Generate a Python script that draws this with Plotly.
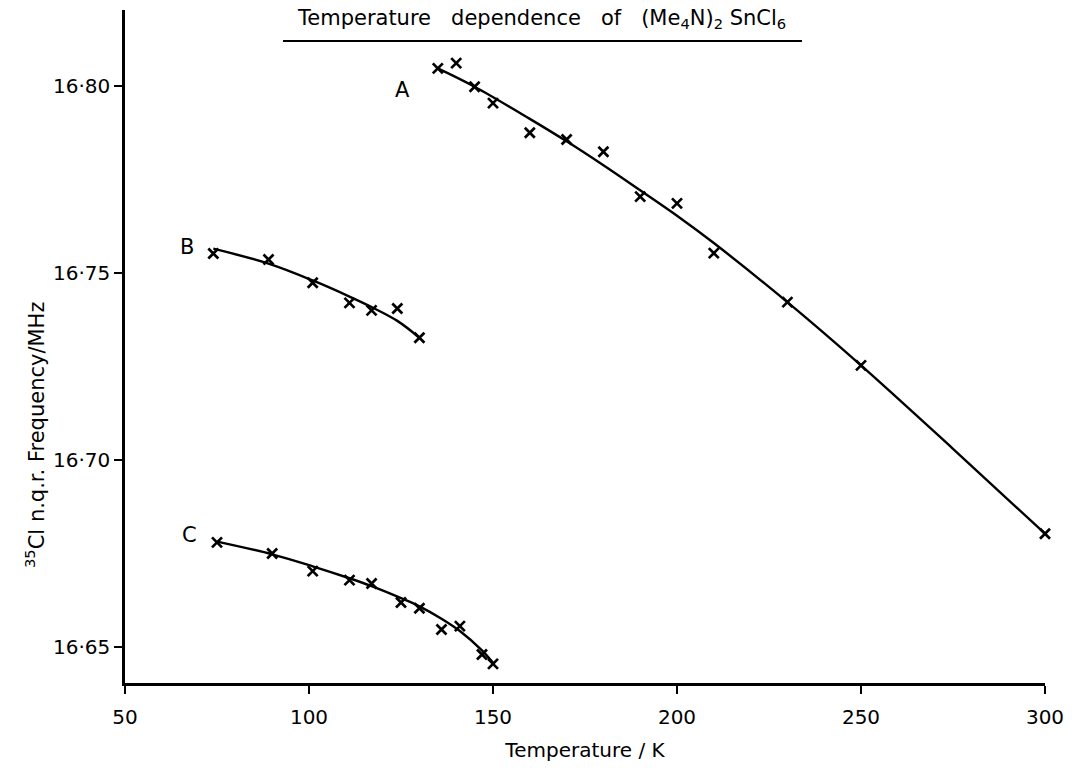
import plotly.graph_objects as go

# ---- data ----
temp_A = [135, 140, 145, 150, 160, 170, 180, 190, 200, 210, 230, 250, 300]
freq_A = [16.8047, 16.8061, 16.7998, 16.7954, 16.7875, 16.7857, 16.7824,
          16.7704, 16.7686, 16.7553, 16.7422, 16.7253, 16.6803]
curve_temp_A = [135, 145, 160, 170, 180, 190, 200, 210, 230, 250, 275, 300]
curve_freq_A = [16.8047, 16.7998, 16.7912, 16.7852, 16.7788, 16.7721, 16.7653,
                16.7580, 16.7422, 16.7253, 16.7030, 16.6803]

temp_B = [74, 89, 101, 111, 117, 124, 130]
freq_B = [16.7552, 16.7536, 16.7474, 16.7420, 16.7400, 16.7405, 16.7327]
curve_temp_B = [74, 89, 101, 111, 117, 124, 130]
curve_freq_B = [16.7565, 16.7525, 16.7480, 16.7437, 16.7409, 16.7372, 16.7327]

temp_C = [75, 90, 101, 111, 117, 125, 130, 136, 141, 147, 150]
freq_C = [16.6780, 16.6750, 16.6703, 16.6679, 16.6670, 16.6619, 16.6604,
          16.6547, 16.6556, 16.6480, 16.6455]
curve_temp_C = [75, 90, 101, 111, 117, 125, 130, 136, 141, 147, 150]
curve_freq_C = [16.6782, 16.6748, 16.6716, 16.6684, 16.6663, 16.6631, 16.6609,
                16.6576, 16.6543, 16.6491, 16.6458]

series_labels = ["A", "B", "C"]
label_temp = [125.5, 66.8, 67.5]
label_freq = [16.799, 16.757, 16.680]

x_ticks = [50, 100, 150, 200, 250, 300]
y_ticks = [16.65, 16.70, 16.75, 16.80]
y_tick_text = ["16·65", "16·70", "16·75", "16·80"]

FONT = "DejaVu Sans"
fig = go.Figure()

for ct, cf in [(curve_temp_A, curve_freq_A), (curve_temp_B, curve_freq_B),
               (curve_temp_C, curve_freq_C)]:
    fig.add_trace(go.Scatter(x=ct, y=cf, mode="lines", cliponaxis=False,
                             line=dict(color="black", width=2.4, shape="spline", smoothing=1.0),
                             showlegend=False, hoverinfo="skip"))

for t, f in [(temp_A, freq_A), (temp_B, freq_B), (temp_C, freq_C)]:
    fig.add_trace(go.Scatter(x=t, y=f, mode="markers", cliponaxis=False,
                             marker=dict(symbol="x-thin", size=10,
                                         line=dict(color="black", width=2.7)),
                             showlegend=False))

for lab, lt, lf in zip(series_labels, label_temp, label_freq):
    fig.add_annotation(x=lt, y=lf, text=lab, showarrow=False,
                       font=dict(family=FONT, size=21, color="black"))

# Title (underlined)
fig.add_annotation(xref="paper", yref="paper", x=(541 - 125) / 920, y=(683 - 19) / 673,
                   yanchor="middle",
                   text="Temperature   dependence   of   (Me<sub>4</sub>N)<sub>2</sub> SnCl<sub>6</sub>",
                   showarrow=False, font=dict(family=FONT, size=21, color="black"))
fig.add_shape(type="line", xref="paper", yref="paper",
              x0=(283 - 125) / 920, x1=(802 - 125) / 920,
              y0=(683 - 41) / 673, y1=(683 - 41) / 673,
              line=dict(color="black", width=2))

# y-axis label
fig.add_annotation(xref="paper", yref="paper", x=(35 - 125) / 920, y=(683 - 435) / 673,
                   xanchor="center", yanchor="middle",
                   text="<sup>35</sup>Cl n.q.r. Frequency/MHz", textangle=-90,
                   showarrow=False, font=dict(family=FONT, size=21, color="black"))

fig.update_layout(
    width=1078, height=772,
    margin=dict(l=125, r=33, t=10, b=89),
    paper_bgcolor="white", plot_bgcolor="white",
    font=dict(family=FONT, size=20, color="black"),
    xaxis=dict(range=[50, 300], tickvals=x_ticks, ticks="outside", ticklen=8,
               tickwidth=2, tickcolor="black", showline=True, linecolor="black",
               linewidth=2.5, showgrid=False, zeroline=False, ticklabelstandoff=6,
               title=dict(text="Temperature / K", font=dict(family=FONT, size=20), standoff=16)),
    yaxis=dict(range=[16.6404, 16.8203], tickvals=y_ticks, ticktext=y_tick_text,
               ticks="outside", ticklen=8, tickwidth=2, tickcolor="black",
               showline=True, linecolor="black", linewidth=2.5, showgrid=False,
               zeroline=False),
)

fig.write_html("out.html")
